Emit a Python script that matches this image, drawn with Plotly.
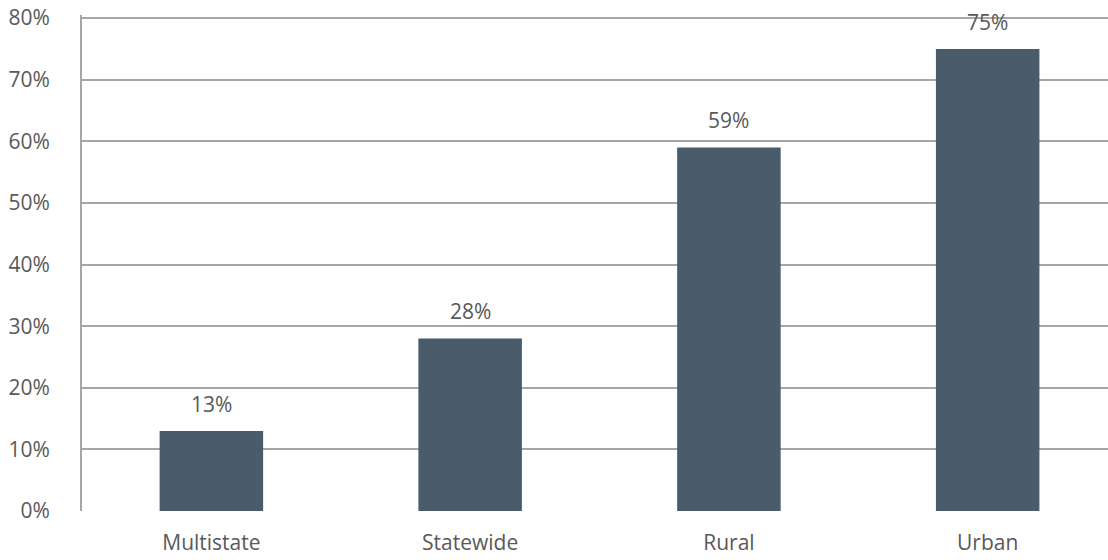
import plotly.graph_objects as go

categories = ["Multistate", "Statewide", "Rural", "Urban"]
values = [13, 28, 59, 75]
y_ticks = [0, 10, 20, 30, 40, 50, 60, 70, 80]
y_tick_labels = [f"{v}%" for v in y_ticks]

BAR = "#4A5B69"
GRID = "#A6A6A6"
TEXT = "#595959"
FONT = "Open Sans"
FS = 21

fig = go.Figure()
fig.add_trace(go.Bar(
    x=list(range(len(categories))), y=values, width=0.4,
    marker=dict(color=BAR, line=dict(width=0)),
    hoverinfo="skip",
))
for i, v in enumerate(values):
    fig.add_annotation(x=i, y=v, text=f"{v}%", showarrow=False,
                       yanchor="middle", yshift=27,
                       font=dict(family=FONT, size=FS, color=TEXT))

fig.update_layout(
    width=1108, height=560,
    margin=dict(l=82, r=0, t=15, b=49, autoexpand=False),
    paper_bgcolor="white", plot_bgcolor="white",
    showlegend=False,
    font=dict(family=FONT, size=FS, color=TEXT),
)
fig.update_xaxes(
    range=[-0.5, 3.465], automargin=False,
    tickmode="array", tickvals=list(range(len(categories))), ticktext=categories,
    showgrid=False, zeroline=False, showline=False, ticks="",
    ticklabelstandoff=17,
)
fig.update_yaxes(
    range=[0, 80.5], automargin=False,
    tickmode="array", tickvals=y_ticks, ticktext=y_tick_labels,
    showgrid=True, gridcolor=GRID, gridwidth=2,
    zeroline=False, showline=True, linecolor=GRID, linewidth=2,
    ticks="", ticklabelstandoff=26, ticklabeloverflow="allow",
)
fig.write_html(
    "out.html",
    config={"displayModeBar": False, "staticPlot": True},
    post_script="document.body.style.margin='0';document.body.style.overflow='hidden';",
)
